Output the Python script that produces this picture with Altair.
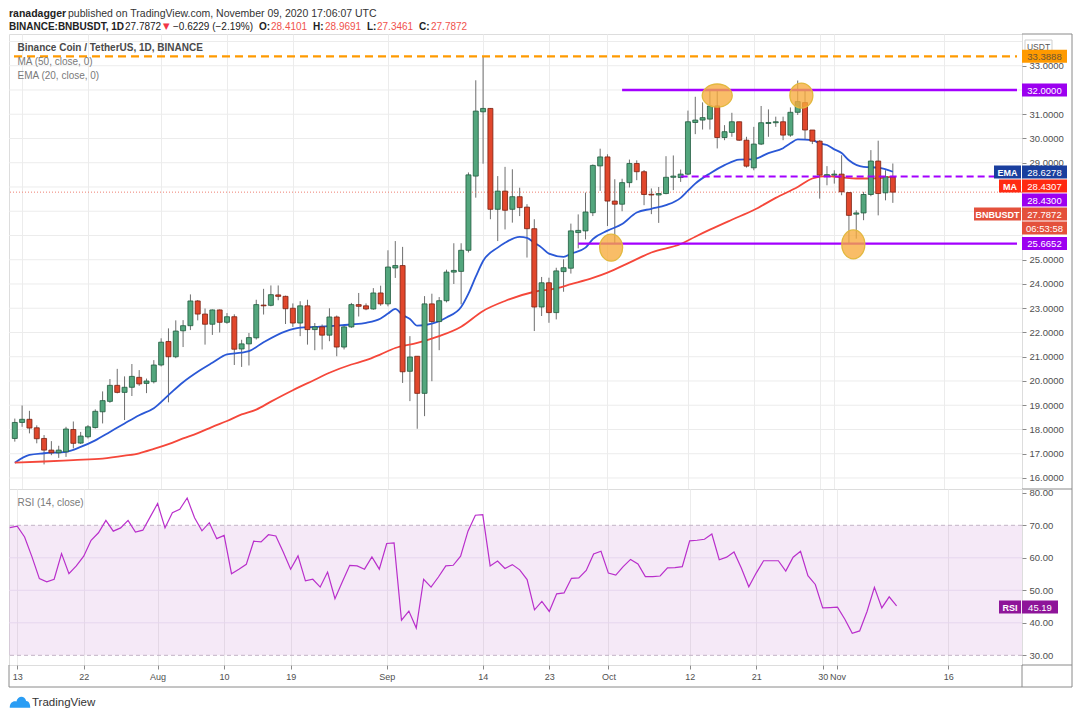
import altair as alt
import pandas as pd

# ---------------- values ----------------
# candle index 0 = 13 Jul 2020 ; first (half visible) candle is index -1 = 12 Jul 2020
FIRST_INDEX = -1
OPEN = [
    17.63, 18.29, 18.42, 18.07, 17.63, 17.15, 17.04, 17.08, 18.00, 17.44,
    17.70, 18.08, 18.73, 19.16, 19.82, 19.53, 19.74, 20.15, 19.90, 19.97,
    20.66, 21.63, 21.00, 22.07, 22.28, 23.30, 22.76, 22.34, 22.93, 22.42,
    22.65, 21.32, 21.53, 21.78, 23.13, 23.12, 23.55, 23.49, 23.00, 22.39,
    23.10, 22.12, 22.23, 21.89, 22.64, 21.40, 22.23, 23.15, 23.10, 22.97,
    23.63, 23.18, 24.66, 24.76, 20.40, 21.02, 19.49, 23.18, 22.45, 23.31,
    24.49, 24.52, 25.39, 28.45, 31.10, 31.24, 27.08, 27.83, 27.08, 27.60,
    27.17, 26.28, 23.05, 24.05, 22.82, 24.51, 24.65, 26.12, 26.19, 26.94,
    28.87, 29.24, 27.42, 27.29, 28.18, 28.97, 28.63, 27.70, 27.67, 27.73,
    28.40, 28.39, 28.53, 30.66, 30.76, 30.80, 31.34, 30.04, 30.25, 30.69,
    29.93, 28.79, 29.77, 30.62, 30.65, 30.69, 30.14, 31.08, 31.48, 30.35,
    29.89, 28.45, 28.49, 28.53, 27.77, 26.88, 26.93, 27.69, 29.07, 27.76,
    28.4101,
]
HIGH = [
    18.45, 18.99, 18.77, 18.17, 17.77, 17.52, 17.33, 18.11, 18.33, 17.90,
    18.18, 18.83, 19.57, 20.08, 20.50, 20.19, 20.70, 20.45, 20.10, 20.86,
    21.76, 22.17, 22.50, 22.51, 23.57, 23.34, 22.99, 22.95, 22.95, 22.80,
    22.75, 21.70, 21.98, 23.35, 23.80, 23.94, 23.94, 23.52, 23.20, 23.29,
    23.35, 22.39, 22.33, 23.00, 22.70, 22.28, 23.22, 23.63, 23.20, 23.83,
    23.93, 25.39, 25.77, 25.53, 21.85, 21.02, 23.50, 23.60, 23.46, 24.59,
    25.68, 25.68, 28.60, 32.40, 33.39, 31.25, 28.45, 28.83, 28.73, 27.97,
    27.29, 26.67, 24.29, 24.26, 24.67, 25.02, 26.49, 26.87, 27.77, 28.93,
    29.58, 29.35, 28.32, 28.34, 29.13, 29.10, 28.70, 27.94, 28.00, 29.27,
    29.30, 28.72, 31.15, 31.72, 31.49, 31.97, 31.97, 30.55, 31.06, 30.69,
    30.07, 30.48, 31.34, 31.20, 30.90, 30.90, 31.28, 32.39, 31.97, 30.35,
    29.93, 28.86, 28.69, 29.31, 27.77, 27.04, 27.80, 29.52, 29.91, 28.69,
    28.9691,
]
LOW = [
    17.50, 18.11, 17.84, 17.43, 16.56, 16.94, 16.83, 16.87, 17.22, 17.40,
    17.63, 18.04, 18.25, 19.10, 19.49, 18.39, 19.38, 19.80, 19.50, 19.90,
    20.60, 19.12, 20.94, 21.40, 22.10, 22.50, 21.50, 21.90, 22.00, 22.36,
    20.66, 20.58, 20.64, 21.71, 22.74, 23.08, 23.33, 22.35, 22.23, 21.85,
    21.50, 21.27, 21.30, 21.64, 21.02, 21.30, 22.19, 22.66, 22.92, 22.94,
    23.10, 23.08, 24.25, 19.92, 19.17, 18.03, 18.55, 19.99, 21.27, 23.24,
    24.00, 23.16, 25.30, 27.56, 28.96, 26.67, 25.77, 26.25, 26.53, 26.80,
    25.09, 22.06, 22.68, 22.40, 22.54, 23.68, 24.43, 25.47, 25.84, 26.80,
    27.84, 26.39, 25.66, 27.00, 27.98, 28.28, 27.25, 26.88, 26.52, 27.70,
    27.87, 28.21, 28.49, 30.18, 30.37, 30.37, 29.59, 29.93, 30.07, 29.90,
    28.80, 28.69, 29.73, 30.07, 30.48, 29.93, 30.07, 30.97, 29.96, 29.77,
    27.52, 28.07, 28.14, 27.66, 25.66, 25.87, 26.63, 27.62, 26.83, 27.45,
    27.3461,
]
CLOSE = [
    18.29, 18.42, 18.06, 17.62, 17.15, 17.04, 17.15, 18.02, 17.43, 17.73,
    18.11, 18.75, 19.19, 19.82, 19.53, 19.74, 20.19, 19.88, 20.00, 20.66,
    21.60, 21.00, 22.06, 22.28, 23.30, 22.76, 22.34, 22.93, 22.42, 22.65,
    21.31, 21.53, 21.79, 23.15, 23.10, 23.56, 23.49, 22.98, 22.39, 23.10,
    22.12, 22.23, 21.89, 22.64, 21.40, 22.23, 23.15, 23.08, 22.97, 23.63,
    23.18, 24.70, 24.76, 20.38, 20.99, 19.49, 23.18, 22.45, 23.31, 24.49,
    24.56, 25.39, 28.50, 31.13, 31.24, 27.08, 27.83, 27.04, 27.60, 27.15,
    26.28, 23.05, 24.05, 22.82, 24.54, 24.67, 26.19, 26.21, 26.97, 28.89,
    29.24, 27.42, 27.29, 28.18, 28.97, 28.63, 27.69, 27.67, 27.73, 28.40,
    28.45, 28.53, 30.69, 30.76, 30.86, 31.34, 30.04, 30.28, 30.69, 29.93,
    28.86, 29.77, 30.65, 30.66, 30.69, 30.14, 31.08, 31.52, 30.35, 29.89,
    28.49, 28.51, 28.53, 27.80, 26.83, 26.93, 27.69, 29.07, 27.73, 28.42,
    27.7872,
]
RSI = [
    69.3, 69.7, 66.4, 60.3, 53.6, 52.6, 53.4, 61.3, 55.1, 57.5,
    60.5, 65.4, 67.7, 71.5, 68.2, 69.2, 71.5, 67.9, 68.5, 72.6,
    76.7, 69.2, 73.9, 74.9, 78.4, 72.3, 68.3, 70.8, 65.9, 66.9,
    55.1, 56.5, 58.0, 65.1, 64.9, 67.1, 66.7, 61.8, 56.5, 60.6,
    52.9, 53.4, 51.0, 55.6, 47.4, 52.6, 57.7, 57.5, 56.5, 60.3,
    56.5, 64.4, 64.6, 40.8, 43.6, 38.4, 53.4, 51.0, 54.1, 57.5,
    57.7, 60.5, 68.2, 73.1, 73.3, 57.5, 59.0, 56.7, 57.9, 56.3,
    53.3, 44.0, 46.6, 43.5, 48.9, 49.2, 53.7, 53.8, 56.1, 61.2,
    62.0, 55.3, 54.7, 57.3, 59.5, 58.1, 54.2, 54.2, 54.4, 56.9,
    57.0, 57.3, 65.2, 65.4, 65.7, 67.3, 59.4, 60.2, 61.8, 56.8,
    51.1, 55.3, 59.1, 59.1, 59.1, 55.9, 60.2, 62.0, 54.5, 51.8,
    44.6, 44.7, 44.8, 41.1, 36.8, 37.5, 43.5, 50.9, 44.6, 48.0,
    45.19,
]
EMA_DAYS = [-1, 1, 3, 6, 8, 10, 12, 14, 16, 18, 20, 22, 24, 26, 28, 30, 31, 33, 36,
            38, 40, 43, 45, 47, 49, 50, 51, 52, 53, 54, 56, 57, 58, 60, 61, 62, 63,
            65, 66, 68, 69, 70, 71, 72, 74, 75, 77, 78, 80, 82, 84, 86, 88, 90, 91,
            92, 94, 96, 98, 100, 102, 104, 105, 106, 108, 109, 110, 111, 112, 113,
            115, 117, 119]
EMA_VALUES = [16.63, 16.95, 17.02, 17.08, 17.28, 17.55, 17.9, 18.25, 18.59, 18.88,
              19.42, 19.95, 20.38, 20.75, 21.1, 21.17, 21.23, 21.6, 22.05, 22.2,
              22.23, 22.28, 22.33, 22.4, 22.58, 22.78, 22.97, 22.72, 22.56, 22.28,
              22.37, 22.47, 22.62, 23.05, 23.6, 24.3, 24.95, 25.5, 25.7, 25.94,
              25.9, 25.7, 25.5, 25.25, 25.12, 25.25, 25.5, 25.85, 26.2, 26.47,
              26.95, 27.1, 27.25, 27.55, 27.85, 28.14, 28.56, 28.9, 29.13, 29.15,
              29.4, 29.6, 29.8, 29.96, 29.93, 29.8, 29.73, 29.55, 29.4, 29.1,
              28.83, 28.8, 28.6278]
MA_DAYS = [-1, 3, 7, 11, 14, 16, 18, 20, 22, 24, 26, 28, 30, 32, 34, 37, 40, 42,
           45, 47, 49, 51, 54, 57, 60, 63, 66, 70, 73, 75, 78, 80, 83, 86, 90, 92,
           94, 97, 100, 103, 106, 108, 110, 112, 114, 116, 119]
MA_VALUES = [16.63, 16.68, 16.74, 16.8, 16.92, 17.02, 17.2, 17.4, 17.63, 17.85,
             18.11, 18.35, 18.62, 18.82, 19.15, 19.62, 20.05, 20.34, 20.68, 20.86,
             21.1, 21.36, 21.57, 21.85, 22.24, 22.89, 23.3, 23.68, 23.82, 23.99,
             24.25, 24.47, 24.88, 25.3, 25.65, 25.95, 26.24, 26.65, 27.05, 27.55,
             28.0, 28.35, 28.45, 28.4, 28.35, 28.35, 28.4307]

TICK_DAYS = [0, 9, 19, 28, 37, 50, 63, 72, 80, 91, 100, 109, 111, 126]
TICK_LABELS = ["13", "22", "Aug", "10", "19", "Sep", "14", "23", "Oct", "12",
               "21", "30", "Nov", "16"]
PRICE_GRID = list(range(16, 35))
# price labels that are not hidden behind the coloured value tags
PRICE_LABELS = [16, 17, 18, 19, 20, 21, 22, 23, 24, 25, 29, 30, 31, 33]
RSI_TICKS = [30, 40, 50, 60, 70, 80]
RSI_GRID = [40, 50, 60]
RSI_BOUNDS = [30, 70]

X_MIN, X_MAX = -1.11, 135.97
P_MIN, P_MAX = 15.546, 34.309
R_MIN, R_MAX = 27.02, 81.17

ATH_LEVEL = 33.3888
SOLID_LEVELS = [32.0, 25.6652]
SOLID_STARTS = [82, 76]
DASHED_LEVEL = 28.43
DASHED_START = 90
LAST_PRICE = 27.7872

ELLIPSE_DAYS = [95.0, 106.5, 113.6, 80.5]
ELLIPSE_PRICES = [31.77, 31.77, 25.63, 25.5]

# ---------------- styles ----------------
FONT = "Liberation Sans"
GRID = "#ececec"
FRAME = "#8a8a8a"
AXIS_TXT = "#4f4f4f"
UP_FILL, UP_LINE = "#53a67d", "#1f5a3d"
DN_FILL, DN_LINE = "#e1472c", "#7a2112"
WICK = "#6f6f6f"
EMA_C, MA_C = "#2a58d6", "#f5473a"
PURPLE = "#a300ff"
PURPLE_TAG = "#9c00f0"
ORANGE = "#ff9a00"
RSI_C = "#b92fcb"
HDR = "#222222"
HDR_RED = "#f0524c"

W, H_P, H_R = 1013, 455, 176

candles = pd.DataFrame({
    "d": list(range(FIRST_INDEX, FIRST_INDEX + len(OPEN))),
    "o": OPEN, "h": HIGH, "l": LOW, "c": CLOSE,
})
rsi_df = pd.DataFrame({"d": list(range(FIRST_INDEX, FIRST_INDEX + len(RSI))), "v": RSI})
ema_df = pd.DataFrame({"d": EMA_DAYS, "v": EMA_VALUES})
ma_df = pd.DataFrame({"d": MA_DAYS, "v": MA_VALUES})
ath_df = pd.DataFrame({"p": [ATH_LEVEL], "s": [X_MIN], "e": [X_MAX]})
solid_df = pd.DataFrame({"p": SOLID_LEVELS, "s": SOLID_STARTS, "e": [X_MAX] * len(SOLID_LEVELS)})
dashed_df = pd.DataFrame({"p": [DASHED_LEVEL], "s": [DASHED_START], "e": [X_MAX]})
last_df = pd.DataFrame({"p": [LAST_PRICE]})
ell_df = pd.DataFrame({"d": ELLIPSE_DAYS, "p": ELLIPSE_PRICES})
pgrid_df = pd.DataFrame({"v": PRICE_GRID})
band_df = pd.DataFrame({"s": [X_MIN], "e": [X_MAX], "lo": [RSI_BOUNDS[0]], "hi": [RSI_BOUNDS[1]]})
rgrid_df = pd.DataFrame({"v": RSI_GRID})
rbound_df = pd.DataFrame({"v": RSI_BOUNDS})
ONE = pd.DataFrame({"k": [0]})

X_SCALE = alt.Scale(domain=[X_MIN, X_MAX], nice=False, zero=False)
P_SCALE = alt.Scale(domain=[P_MIN, P_MAX], nice=False, zero=False)
R_SCALE = alt.Scale(domain=[R_MIN, R_MAX], nice=False, zero=False)

label_expr = " : ".join(
    f"datum.value == {d} ? '{t}'" for d, t in zip(TICK_DAYS, TICK_LABELS)
) + " : ''"

AX_COMMON = dict(labelFont=FONT, labelColor=AXIS_TXT, title=None,
                 domain=False, tickColor=FRAME, tickSize=4, labelPadding=3,
                 labelOverlap=False)

X_AX_P = alt.Axis(values=TICK_DAYS, labels=False, ticks=False, domain=False,
                  grid=True, gridColor=GRID, title=None)
Y_AX_P = alt.Axis(orient="right", values=PRICE_LABELS, format=".4f", grid=False,
                  labelFontSize=9.5, **AX_COMMON)
X_AX_R = alt.Axis(values=TICK_DAYS, labelExpr=label_expr, grid=True, gridColor=GRID,
                  labelFlush=False, labelFontSize=9, **AX_COMMON)
Y_AX_R = alt.Axis(orient="right", values=RSI_TICKS, format=".2f", grid=False,
                  labelFontSize=9.5, **AX_COMMON)


def px(f):
    return alt.X(f, type="quantitative", scale=X_SCALE, axis=X_AX_P)


def py(f):
    return alt.Y(f, type="quantitative", scale=P_SCALE, axis=Y_AX_P)


def rx(f):
    return alt.X(f, type="quantitative", scale=X_SCALE, axis=X_AX_R)


def ry(f):
    return alt.Y(f, type="quantitative", scale=R_SCALE, axis=Y_AX_R)


def text_at(s, x, y, color, size=10, weight="normal", align="left", baseline="middle", font=FONT):
    return alt.Chart(ONE).mark_text(
        text=s, align=align, baseline=baseline, fontSize=size, fontWeight=weight,
        color=color, font=font
    ).encode(x=alt.value(x), y=alt.value(y))


def rect_at(x0, x1, y0, y1, fill, stroke=None):
    kw = dict(fill=fill)
    if stroke:
        kw.update(stroke=stroke, strokeWidth=1)
    return alt.Chart(ONE).mark_rect(**kw).encode(
        x=alt.value(x0), x2=alt.value(x1), y=alt.value(y0), y2=alt.value(y1))


def hline(x0, x1, y, color=FRAME):
    return alt.Chart(ONE).mark_rule(color=color, strokeWidth=1).encode(
        x=alt.value(x0), x2=alt.value(x1), y=alt.value(y))


def vline(x, y0, y1, color=FRAME):
    return alt.Chart(ONE).mark_rule(color=color, strokeWidth=1).encode(
        x=alt.value(x), y=alt.value(y0), y2=alt.value(y1))


def tag(yc, value_text, fill, left_text=None, left_x0=None, txt="white", width=45):
    out = [rect_at(W, W + width, yc - 6.5, yc + 6.5, fill),
           text_at(value_text, W + width / 2, yc + 0.5, txt, 9.5, align="center")]
    if left_text:
        out += [rect_at(left_x0, W - 1, yc - 6.5, yc + 6.5, fill),
                text_at(left_text, (left_x0 + W - 1) / 2, yc + 0.5, txt, 9, "bold", "center")]
    return out


# ---------------- price panel ----------------
pgrid = alt.Chart(pgrid_df).mark_rule(color=GRID, strokeWidth=1).encode(y=py("v"))
wicks = alt.Chart(candles).mark_rule(color=WICK, strokeWidth=1, clip=True).encode(
    x=px("d"), y=py("l"), y2=alt.Y2("h"))
up = "datum.c >= datum.o"
bodies = alt.Chart(candles).mark_bar(size=5, strokeWidth=0.8, clip=True).encode(
    x=px("d"), y=py("o"), y2=alt.Y2("c"),
    fill=alt.condition(up, alt.value(UP_FILL), alt.value(DN_FILL)),
    stroke=alt.condition(up, alt.value(UP_LINE), alt.value(DN_LINE)))
last_line = alt.Chart(last_df).mark_rule(color="#ee7f70", strokeDash=[1, 2], strokeWidth=1).encode(
    y=py("p"))
ema_line = alt.Chart(ema_df).mark_line(color=EMA_C, strokeWidth=1.8, interpolate="monotone",
                                       clip=True).encode(x=px("d"), y=py("v"))
ma_line = alt.Chart(ma_df).mark_line(color=MA_C, strokeWidth=1.8, interpolate="monotone",
                                     clip=True).encode(x=px("d"), y=py("v"))
ath_line = alt.Chart(ath_df).mark_rule(color=ORANGE, strokeWidth=2.2, strokeDash=[8, 5]).encode(
    x=px("s"), x2=alt.X2("e"), y=py("p"))
solid_lines = alt.Chart(solid_df).mark_rule(color=PURPLE, strokeWidth=2.3).encode(
    x=px("s"), x2=alt.X2("e"), y=py("p"))
dashed_line = alt.Chart(dashed_df).mark_rule(color=PURPLE, strokeWidth=2, strokeDash=[7, 4]).encode(
    x=px("s"), x2=alt.X2("e"), y=py("p"))


def ell_path(r):
    return f"M-1,0A1,{r} 0 1,0 1,0A1,{r} 0 1,0 -1,0Z"


ELL_SHAPES = [(0.77, 900), (1.09, 529), (1.26, 529), (1.17, 529)]
ellipses = []
for i, (r, sz) in enumerate(ELL_SHAPES):
    ellipses.append(
        alt.Chart(ell_df.iloc[[i]]).mark_point(
            shape=ell_path(r), size=sz, filled=True, fill="#f7ab3c", fillOpacity=0.78,
            stroke="#e2b83e", strokeWidth=1.3, opacity=1
        ).encode(x=px("d"), y=py("p")))

header = [
    text_at("ranadagger", 0, -25, HDR, 10.5, "bold", baseline="top"),
    text_at("published on TradingView.com, November 09, 2020 17:06:07 UTC", 59, -25, "#333333", 10.5, baseline="top"),
    text_at("BINANCE:BNBUSDT, 1D", 0, -12.5, HDR, 10, "bold", baseline="top"),
    text_at("27.7872", 116, -12.5, HDR, 10, baseline="top"),
    text_at("▼", 154, -12, "#f23645", 8.5, baseline="top", font="DejaVu Sans"),
    text_at("−0.6229 (−2.19%)", 164, -12.5, HDR, 10, baseline="top"),
    text_at("O:", 250, -12.5, HDR, 10, "bold", baseline="top"),
    text_at("28.4101", 262, -12.5, HDR_RED, 10, baseline="top"),
    text_at("H:", 304, -12.5, HDR, 10, "bold", baseline="top"),
    text_at("28.9691", 316, -12.5, HDR_RED, 10, baseline="top"),
    text_at("L:", 358, -12.5, HDR, 10, "bold", baseline="top"),
    text_at("27.3461", 368, -12.5, HDR_RED, 10, baseline="top"),
    text_at("C:", 410, -12.5, HDR, 10, "bold", baseline="top"),
    text_at("27.7872", 422, -12.5, HDR_RED, 10, baseline="top"),
]
legend_txt = [
    text_at("Binance Coin / TetherUS, 1D, BINANCE", 8.5, 14, "#4a4a4a", 10, "bold"),
    text_at("MA (50, close, 0)", 8.5, 28, "#7a7a7a", 10),
    text_at("EMA (20, close, 0)", 8.5, 41.5, "#7a7a7a", 10),
]
tags = []
tags += [rect_at(1016, 1043, 6, 18, "white", "#cfcfcf"),
         text_at("USDT", 1029.5, 12.5, "#555555", 8.5, align="center")]
tags += tag(22.3, "33.3888", ORANGE, txt="#6e5636")
tags += tag(56, "32.0000", PURPLE_TAG)
tags += tag(138, "28.6278", "#1a3f9e", "EMA", 985)
tags += tag(152, "28.4307", "#ff2a12", "MA", 990)
tags += tag(166, "28.4300", PURPLE_TAG)
tags += tag(180, "27.7872", "#e4513c", "BNBUSDT", 965)
tags += tag(194, "06:53:58", "#e4513c")
tags += tag(209.6, "25.6652", PURPLE_TAG)

frame_p = [hline(W, W + 50, 0), vline(W + 50, 0, H_P), hline(W, W + 50, H_P)]

price = alt.layer(
    pgrid, wicks, last_line, ema_line, ma_line, bodies, ath_line, solid_lines, dashed_line,
    *ellipses, *legend_txt, *header, *tags, *frame_p
).properties(width=W, height=H_P)

# ---------------- RSI panel ----------------
band = alt.Chart(band_df).mark_rect(fill="#9c27b0", opacity=0.1).encode(
    x=rx("s"), x2=alt.X2("e"), y=ry("lo"), y2=alt.Y2("hi"))
rgrid = alt.Chart(rgrid_df).mark_rule(color="#e6d6ee", strokeWidth=1).encode(y=ry("v"))
rbound = alt.Chart(rbound_df).mark_rule(color="#c2b4c6", strokeWidth=1, strokeDash=[4, 3]).encode(y=ry("v"))
rsi_line = alt.Chart(rsi_df).mark_line(color=RSI_C, strokeWidth=1.2, clip=True).encode(
    x=rx("d"), y=ry("v"))
rsi_txt = [text_at("RSI (14, close)", 8.5, 14, "#7a7a7a", 10)]
rsi_tags = tag(118, "45.19", "#8e1599", "RSI", 990, width=36)
frame_r = [vline(W + 50, 0, H_R + 22), hline(W, W + 50, H_R), hline(0, W + 50, H_R + 22),
           vline(0, H_R, H_R + 22), vline(W, H_R, H_R + 22)]
logo = alt.Chart(ONE).mark_point(
    shape="M-1,0.55C-1,0.05 -0.65,-0.15 -0.35,-0.05C-0.25,-0.6 0.45,-0.7 0.6,-0.1C0.9,-0.1 1,0.25 1,0.55Z",
    size=420, filled=True, fill="#2a9df4", opacity=1
).encode(x=alt.value(11), y=alt.value(213))
footer = [logo, text_at("TradingView", 23, 214, "#333333", 11.5)]

rsi = alt.layer(
    band, rgrid, rbound, rsi_line, *rsi_txt, *rsi_tags, *frame_r, *footer
).properties(width=W, height=H_R)

chart = alt.vconcat(price, rsi, spacing=0, bounds="flush").properties(
    padding=0, background="white"
).configure_view(stroke=FRAME, strokeWidth=1).configure(font=FONT)

chart.save("out.html", embed_options={"renderer": "svg", "actions": False})
